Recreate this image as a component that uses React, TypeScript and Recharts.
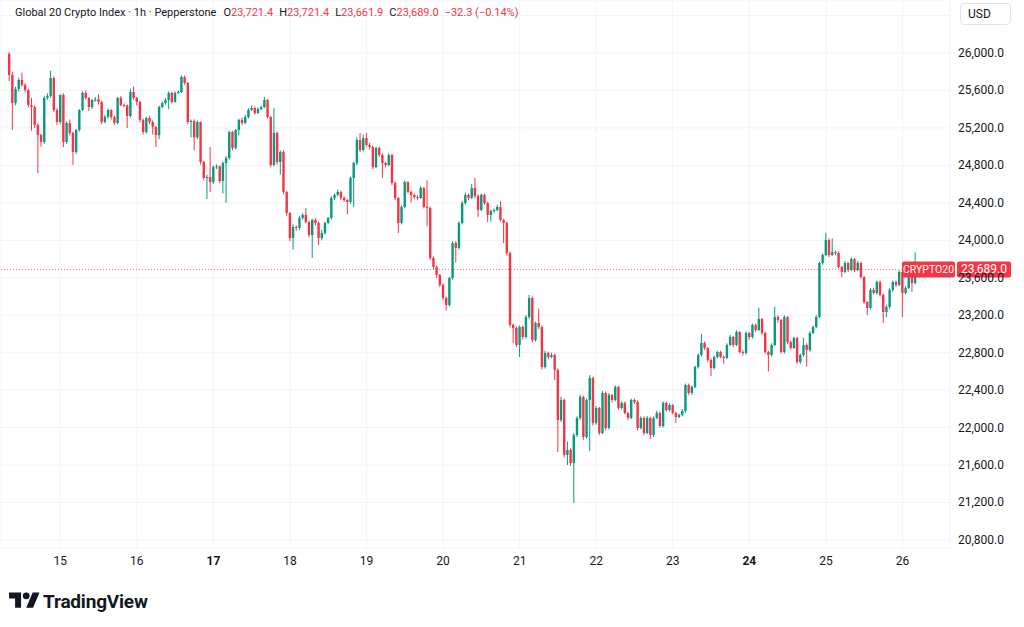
import React from 'react';
import { ComposedChart, Bar, XAxis, YAxis, CartesianGrid, ReferenceLine } from 'recharts';

// 1h candles, 14th 08:00 .. 26th 05:00
const firstOpen = 25990;

const closes = [
  25765, 25466, 25616, 25712, 25658, 25605, 25445, 25423, 25231, 25124, 25050, 25520, 25541, 25733, 25391, 25263,
  25552, 25050, 25253, 25146, 24943, 25178, 25391, 25573, 25520, 25423, 25498, 25505, 25477, 25263, 25317, 25391,
  25317, 25253, 25520, 25445, 25440, 25327, 25584, 25520, 25477, 25285, 25156, 25306, 25263, 25210, 25124, 25423,
  25466, 25498, 25573, 25477, 25573, 25584, 25744, 25680, 25263, 25274, 25100, 25263, 24836, 24665, 24676, 24622,
  24783, 24790, 24633, 24825, 24879, 25156, 24986, 25178, 25285, 25253, 25317, 25391, 25413, 25359, 25402, 25423,
  25498, 25317, 24804, 25146, 24836, 24943, 24516, 24292, 24025, 24142, 24132, 24238, 24270, 24195, 24057, 24217,
  24185, 24025, 24078, 24185, 24238, 24452, 24484, 24516, 24452, 24430, 24409, 24665, 24825, 25071, 24964, 25092,
  25018, 24996, 24783, 24986, 24911, 24825, 24804, 24911, 24612, 24452, 24185, 24356, 24622, 24516, 24484, 24462,
  24452, 24558, 24356, 24345, 23811, 23715, 23630, 23523, 23384, 23309, 23597, 23971, 23918, 24185, 24398, 24484,
  24452, 24558, 24473, 24324, 24484, 24398, 24270, 24313, 24324, 24356, 24217, 24185, 23864, 23096, 23064, 22882,
  23074, 22967, 23181, 23384, 22935, 23117, 23074, 22647, 22797, 22754, 22775, 22615, 22081, 22295, 21708, 21761,
  21622, 21921, 22103, 22327, 21900, 22295, 22530, 22050, 22209, 21942, 22370, 21996, 22348, 22295, 22434, 22209,
  22263, 22156, 22103, 22295, 22273, 21996, 22103, 21942, 22103, 21921, 22103, 22156, 22017, 22263, 22188, 22241,
  22156, 22113, 22135, 22177, 22455, 22370, 22434, 22647, 22775, 22903, 22850, 22722, 22636, 22754, 22807, 22754,
  22743, 22882, 22967, 22882, 23021, 22807, 22797, 23010, 22967, 23096, 23042, 23160, 23010, 22807, 22775, 22882,
  23181, 23149, 22807, 23181, 22914, 22850, 22957, 22700, 22775, 22882, 22829, 23010, 23074, 23181, 23757, 23843,
  24003, 23843, 23875, 23864, 23715, 23662, 23757, 23683, 23800, 23683, 23757, 23608, 23341, 23277, 23470, 23437,
  23555, 23416, 23234, 23288, 23470, 23555, 23523, 23662, 23437, 23491, 23608, 23544, 23721.4, 23689.0,
];

const highs = [
  26010, 25800, 25640, 25735, 25790, 25680, 25620, 25520, 25440, 25250, 25140, 25540, 25570, 25810, 25750, 25410,
  25560, 25570, 25270, 25290, 25160, 25190, 25400, 25590, 25600, 25530, 25510, 25530, 25560, 25490, 25340, 25410,
  25400, 25330, 25530, 25540, 25460, 25450, 25620, 25640, 25530, 25490, 25300, 25320, 25330, 25280, 25220, 25440,
  25480, 25520, 25590, 25585, 25590, 25600, 25760, 25760, 25690, 25290, 25290, 25280, 25270, 24850, 24700, 24996,
  24800, 24810, 24800, 24840, 24900, 25170, 25170, 25190, 25300, 25310, 25340, 25410, 25440, 25430, 25420, 25440,
  25530, 25510, 25330, 25413, 25160, 24960, 24960, 24530, 24300, 24170, 24160, 24260, 24290, 24345, 24210, 24230,
  24240, 24200, 24110, 24200, 24250, 24470, 24500, 24540, 24530, 24470, 24440, 24680, 24840, 25100, 25146, 25130,
  25146, 25040, 25010, 25000, 25000, 24930, 24840, 24930, 24920, 24630, 24460, 24370, 24640, 24630, 24530, 24500,
  24480, 24580, 24570, 24640, 24360, 23830, 23730, 23640, 23540, 23400, 23610, 23990, 23990, 24200, 24420, 24510,
  24500, 24600, 24665, 24490, 24500, 24500, 24410, 24330, 24340, 24380, 24420, 24230, 24200, 23880, 23110, 23080,
  23090, 23090, 23200, 23416, 23400, 23130, 23270, 23090, 22820, 22810, 22800, 22790, 22630, 22330, 22310, 21850,
  21780, 21940, 22120, 22350, 22340, 22310, 22560, 22545, 22230, 22220, 22390, 22385, 22370, 22360, 22450, 22445,
  22280, 22280, 22170, 22310, 22310, 22290, 22120, 22120, 22125, 22115, 22120, 22180, 22170, 22280, 22280, 22260,
  22250, 22170, 22150, 22200, 22470, 22470, 22450, 22660, 22790, 23000, 22920, 22860, 22740, 22770, 22820, 22820,
  22770, 22900, 22990, 22980, 23040, 23030, 22830, 23030, 23020, 23110, 23110, 23280, 23170, 23020, 22820, 22900,
  23290, 23200, 23160, 23200, 23190, 22930, 22970, 22970, 22790, 22960, 22900, 23030, 23090, 23200, 23770, 23860,
  24080, 24020, 24020, 23890, 23880, 23730, 23780, 23770, 23820, 23810, 23780, 23770, 23620, 23350, 23490, 23490,
  23570, 23570, 23430, 23310, 23490, 23570, 23570, 23680, 23670, 23510, 23630, 23620, 23870, 23721.4,
];

const lows = [
  25700, 25178, 25440, 25590, 25640, 25580, 25420, 25170, 25200, 24719, 25000, 25030, 25500, 25520, 25370, 25230,
  25240, 24996, 25030, 25120, 24804, 24920, 25160, 25380, 25500, 25380, 25400, 25480, 25450, 25240, 25250, 25300,
  25290, 25230, 25240, 25430, 25420, 25200, 25310, 25500, 25440, 25260, 25130, 25140, 25240, 25130, 24996, 25080,
  25410, 25450, 25400, 25460, 25470, 25560, 25570, 25660, 25240, 25100, 24960, 25080, 24810, 24640, 24440, 24516,
  24600, 24760, 24610, 24500, 24400, 24860, 24960, 24970, 25120, 25230, 25240, 25300, 25380, 25340, 25350, 25390,
  25410, 25300, 24780, 24790, 24810, 24700, 24490, 24260, 23990, 23900, 24100, 24110, 24220, 24180, 24030, 23811,
  24160, 23950, 24000, 24060, 24170, 24220, 24430, 24470, 24430, 24410, 24280, 24390, 24356, 24800, 24940, 24950,
  25000, 24970, 24760, 24770, 24890, 24665, 24780, 24790, 24590, 24430, 24078, 24170, 24340, 24500, 24400, 24440,
  24430, 24440, 24340, 24150, 23790, 23690, 23600, 23500, 23360, 23250, 23290, 23580, 23760, 23900, 24170, 24380,
  24430, 24440, 24450, 24250, 24310, 24380, 24195, 24200, 24290, 24310, 24200, 23970, 23840, 23070, 22900, 22860,
  22754, 22940, 22950, 23160, 22910, 22920, 23050, 22620, 22630, 22730, 22740, 22508, 21740, 22060, 21680, 21600,
  21590, 21195, 21900, 22080, 21870, 21880, 21750, 22020, 22030, 21920, 21930, 21970, 21980, 22270, 22280, 22190,
  22190, 22140, 22080, 22090, 22250, 21970, 21980, 21920, 21930, 21880, 21900, 22090, 22000, 22000, 22170, 22170,
  22140, 22050, 22100, 22120, 22160, 22350, 22350, 22420, 22630, 22760, 22830, 22700, 22550, 22620, 22740, 22740,
  22680, 22730, 22870, 22860, 22870, 22790, 22770, 22780, 22940, 22950, 23020, 23030, 22990, 22790, 22600, 22760,
  22870, 23120, 22790, 22790, 22890, 22830, 22840, 22680, 22680, 22760, 22650, 22810, 23000, 23060, 23170, 23740,
  23830, 23820, 23830, 23840, 23700, 23608, 23650, 23660, 23670, 23660, 23670, 23590, 23320, 23200, 23260, 23420,
  23420, 23400, 23117, 23180, 23270, 23450, 23500, 23510, 23180, 23420, 23480, 23450, 23530, 23661.9,
];

// hour index of 00:00 for each labelled day
const dayTicks = [16, 40, 64, 88, 112, 136, 160, 184, 208, 232, 256, 280];
const dayLabels = ['15', '16', '17', '18', '19', '20', '21', '22', '23', '24', '25', '26'];
const boldDays = ['17', '24'];

const priceTicks = [20800, 21200, 21600, 22000, 22400, 22800, 23200, 23600, 24000, 24400, 24800, 25200, 25600, 26000, 26400];
const labelledMax = 26000; // 26,400 sits behind the USD box

const lastPrice = 23689.0;
const symbol = 'CRYPTO20';

const UP = '#089981';
const DOWN = '#f23645';
const FONT = 'Roboto, "Noto Sans", sans-serif';

const data = closes.map((c, i) => ({
  i,
  o: i === 0 ? firstOpen : closes[i - 1],
  c,
  h: highs[i],
  l: lows[i],
  range: [lows[i], highs[i]],
}));

const fmt = (v: number) =>
  v.toLocaleString('en-US', { minimumFractionDigits: 1, maximumFractionDigits: 1 });

function Candle(props: any) {
  const { x, y, width, height, payload } = props;
  if (x == null || y == null) return null;
  const { o, c, h, l } = payload;
  const color = c >= o ? UP : DOWN;
  const cx = x + width / 2;
  const top = Math.min(y, y + height);
  const hgt = Math.abs(height);
  const ratio = h - l > 0 ? hgt / (h - l) : 0;
  const bTop = top + (h - Math.max(o, c)) * ratio;
  const bBot = top + (h - Math.min(o, c)) * ratio;
  const bw = 2.4;
  return (
    <g>
      <line x1={cx} x2={cx} y1={top} y2={top + hgt} stroke={color} strokeWidth={1} />
      <rect x={cx - bw / 2} y={bTop} width={bw} height={Math.max(bBot - bTop, 1)} fill={color} />
    </g>
  );
}

function DayTick(props: any) {
  const { x, y, payload } = props;
  const idx = dayTicks.indexOf(payload.value);
  const label = dayLabels[idx] ?? '';
  return (
    <text x={x} y={y} dy={9} textAnchor="middle" fontSize={12} fill="#131722" fontFamily={FONT}
      fontWeight={boldDays.includes(label) ? 700 : 400}>
      {label}
    </text>
  );
}

function PriceTick(props: any) {
  const { x, y, payload } = props;
  if (payload.value > labelledMax) return <g />;
  return (
    <text x={x} y={y} dy={4} textAnchor="start" fontSize={12} fill="#131722" fontFamily={FONT}>
      {fmt(payload.value)}
    </text>
  );
}

function LastPriceLabel(props: any) {
  const vb = props.viewBox || {};
  const right = (vb.x ?? 0) + (vb.width ?? 0);
  const yy = vb.y ?? 0;
  return (
    <g fontFamily={FONT}>
      <rect x={right - 48} y={yy - 8} width={53} height={16} rx={2} fill={DOWN} />
      <text x={right - 21.5} y={yy + 4} textAnchor="middle" fill="#fff" fontSize={10.5}>{symbol}</text>
      <rect x={right + 7} y={yy - 8} width={54} height={16} rx={2} fill={DOWN} />
      <text x={right + 34} y={yy + 4} textAnchor="middle" fill="#fff" fontSize={12}>{fmt(lastPrice)}</text>
    </g>
  );
}

export default function App() {
  const red = { color: DOWN };
  return (
    <div style={{ position: 'absolute', left: 0, top: 0, width: 1024, height: 627, background: '#fff', fontFamily: FONT }}>
      <ComposedChart width={1016} height={575} data={data} margin={{ top: 0, right: 0, bottom: 0, left: 0 }}>
        <CartesianGrid stroke="#f0f3fa" />
        <XAxis dataKey="i" type="number" domain={[-2.9, 294.9]} ticks={dayTicks} interval={0}
          tick={<DayTick />} tickLine={false} axisLine={false} height={27} allowDataOverflow />
        <YAxis orientation="right" type="number" domain={[20714, 26566]} ticks={priceTicks} interval={0}
          tick={<PriceTick />} tickLine={false} axisLine={false} width={66} allowDataOverflow />
        <ReferenceLine y={lastPrice} stroke={DOWN} strokeOpacity={0.7} strokeDasharray="1 2" label={<LastPriceLabel />} />
        <Bar dataKey="range" barSize={3} shape={<Candle />} isAnimationActive={false} />
      </ComposedChart>

      <div style={{ position: 'absolute', left: 15, top: 6, fontSize: 11, color: '#131722', whiteSpace: 'nowrap' }}>
        Global 20 Crypto Index · 1h · Pepperstone
        <span style={{ marginLeft: 7 }}>O<span style={red}>23,721.4</span></span>
        <span style={{ marginLeft: 6 }}>H<span style={red}>23,721.4</span></span>
        <span style={{ marginLeft: 6 }}>L<span style={red}>23,661.9</span></span>
        <span style={{ marginLeft: 6 }}>C<span style={red}>23,689.0</span></span>
        <span style={{ marginLeft: 6, ...red }}>−32.3 (−0.14%)</span>
      </div>

      <div style={{ position: 'absolute', left: 960, top: 3, width: 51, height: 22, boxSizing: 'border-box', border: '1px solid #e0e3eb',
        borderRadius: 4, background: '#fff', fontSize: 12, color: '#131722', lineHeight: '20px', paddingLeft: 7 }}>
        USD
      </div>

      <div style={{ position: 'absolute', left: 9, top: 589, display: 'flex', alignItems: 'center' }}>
        <svg width={31} height={24} viewBox="0 0 36 28">
          <path d="M14 22H7V11H0V4h14v18zM28 22h-8l7.5-18h8L28 22z" fill="#131722" />
          <circle cx={20} cy={8} r={4} fill="#131722" />
        </svg>
        <span style={{ marginLeft: 3, fontSize: 19, fontWeight: 700, color: '#131722', letterSpacing: -0.2 }}>TradingView</span>
      </div>
    </div>
  );
}
